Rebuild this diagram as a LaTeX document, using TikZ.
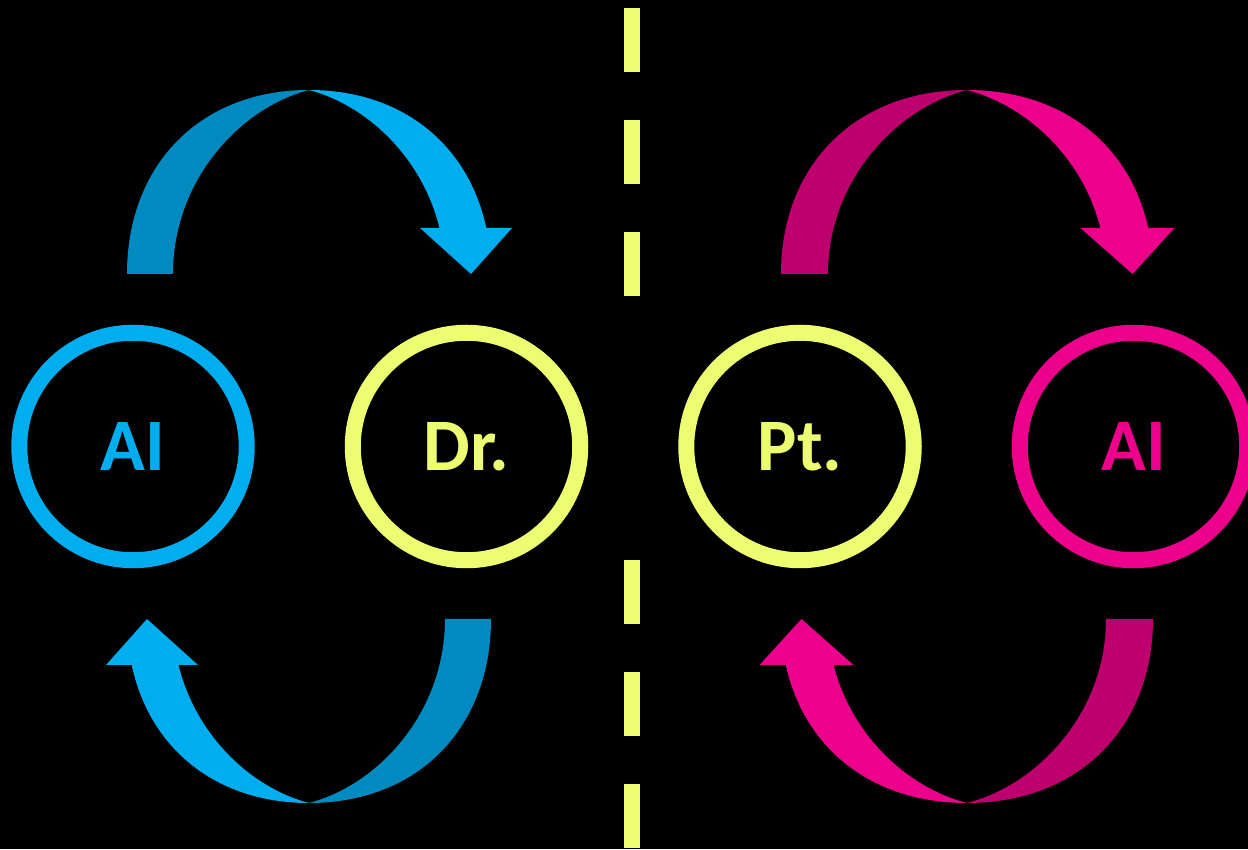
\documentclass[tikz,border=0pt]{standalone}
\usepackage{fontspec}
\usepackage{xcolor}
\usetikzlibrary{positioning}
\newfontfamily\labelfont{Carlito}

\definecolor{aiblue}{RGB}{0,174,239}
\definecolor{aibluedark}{RGB}{0,139,192}
\definecolor{docyellow}{RGB}{236,253,114}
\definecolor{aipink}{RGB}{236,0,140}
\definecolor{aipinkdark}{RGB}{189,0,110}

\tikzset{
    x=1pt, y=1pt, % one unit is one pixel of the layout
    node distance=333.5pt, % centre to centre of the rings
    ring/.style={circle, draw=#1, text=#1, line width=16pt, minimum size=227.5pt, inner sep=0pt,
        font=\labelfont\bfseries\fontsize{74}{74}\selectfont}, % the four round badges
    divider/.style={draw=docyellow, line width=16pt, dash pattern=on 64pt off 48pt}, % middle line
    % half loop: #1 tail colour, #2 head colour, origin below the top of the arch
    pics/swap arrow/.style 2 args={code={
        \fill[#1] (-182,0) .. controls (-182,109) and (-109,184) .. (0,184)
            .. controls (-69,166) and (-136,94) .. (-136,0) -- cycle;
        \fill[#2] (0,184) .. controls (92.8,184) and (159.4,129.7) .. (177.3,46)
            -- (203,46) -- (162,0) -- (111,46) -- (130.5,46)
            .. controls (113.2,116.9) and (57.3,169.1) .. (0,184) -- cycle;
    }},
}

\begin{document}
\begin{tikzpicture}
    \useasboundingbox (0,0) rectangle (1248,849);
    \fill[black] (0,0) rectangle (1248,849);

    \node[ring=aiblue] (aiL) at (133,402.5) {AI};
    \node[ring=docyellow, right of=aiL] (dr) {Dr.};
    \node[ring=docyellow, right of=dr] (pt) {Pt.};
    \node[ring=aipink, right of=pt] (aiR) {AI};

    % left loop
    \pic at (309,575) {swap arrow={aibluedark}{aiblue}};
    \pic[rotate=180] at (309,230) {swap arrow={aibluedark}{aiblue}};

    % right loop
    \pic[xscale=1.022] at (967,575) {swap arrow={aipinkdark}{aipink}};
    \pic[rotate=180, xscale=1.022] at (967,230) {swap arrow={aipinkdark}{aipink}};

    \coordinate (cutA) at (632,841);
    \coordinate (cutB) at (632,553);
    \coordinate (cutC) at (632,289);
    \coordinate (cutD) at (632,0);
    \draw[divider] (cutA) -- (cutB);
    \draw[divider] (cutC) -- (cutD);
\end{tikzpicture}
\end{document}
